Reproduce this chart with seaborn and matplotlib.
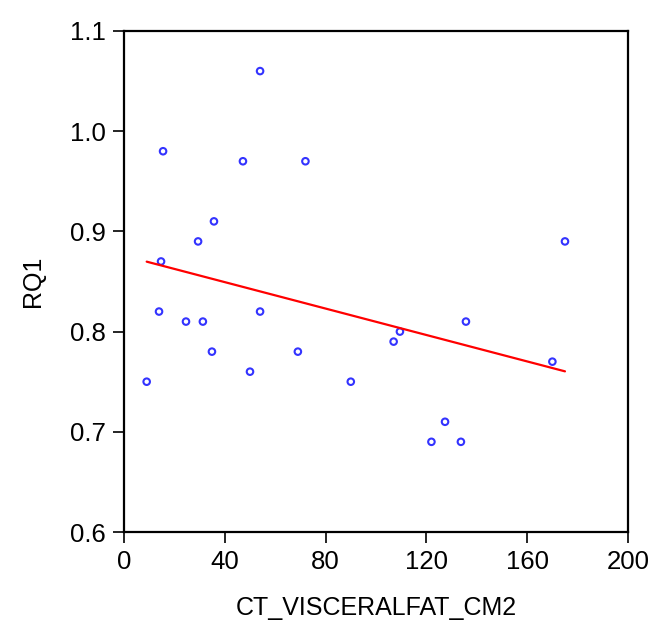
import numpy as np
import pandas as pd
import matplotlib
matplotlib.use("Agg")
import matplotlib.pyplot as plt
import seaborn as sns

# values
visceral_fat = [9, 13.9, 14.7, 15.5, 24.6, 29.4, 31.3, 34.9, 35.7, 47.2, 50, 54,
                54, 69, 72, 90, 107, 109.5, 122, 127.4, 133.7, 135.7, 170, 175]
rq1 = [0.75, 0.82, 0.87, 0.98, 0.81, 0.89, 0.81, 0.78, 0.91, 0.97, 0.76, 1.06,
       0.82, 0.78, 0.97, 0.75, 0.79, 0.80, 0.69, 0.71, 0.69, 0.81, 0.77, 0.89]
x_ticks = [0, 40, 80, 120, 160, 200]
y_ticks = [0.6, 0.7, 0.8, 0.9, 1.0, 1.1]

df = pd.DataFrame({"CT_VISCERALFAT_CM2": visceral_fat, "RQ1": rq1})

sns.set_style("white")
plt.rcParams["font.family"] = ["Liberation Sans", "DejaVu Sans"]
plt.rcParams["text.color"] = "black"

fig = plt.figure(figsize=(6.54, 6.25), dpi=100)
ax = fig.add_axes([0.1896, 0.1488, 0.7706, 0.8016])

sns.regplot(data=df, x="CT_VISCERALFAT_CM2", y="RQ1", ci=None, truncate=True, ax=ax,
            scatter_kws=dict(s=22, facecolors="none", edgecolors="#0000ff", linewidths=1.5),
            line_kws=dict(color="#ff0000", linewidth=1.6))

ax.set_xlim(0, 200)
ax.set_ylim(0.6, 1.1)
ax.set_xticks(x_ticks)
ax.set_xticklabels([str(t) for t in x_ticks])
ax.set_yticks(y_ticks)
ax.set_yticklabels([f"{t:.1f}" for t in y_ticks])
ax.tick_params(axis="both", direction="out", length=8, width=1.2, labelsize=18.5,
               colors="black", bottom=True, left=True, top=False, right=False, pad=5)
for s in ax.spines.values():
    s.set_linewidth(1.6)
    s.set_color("black")
ax.set_xlabel("CT_VISCERALFAT_CM2", fontsize=18, labelpad=16, color="black")
ax.set_ylabel("RQ1", fontsize=18, labelpad=18, color="black")

fig.savefig("out.png", dpi=100)
